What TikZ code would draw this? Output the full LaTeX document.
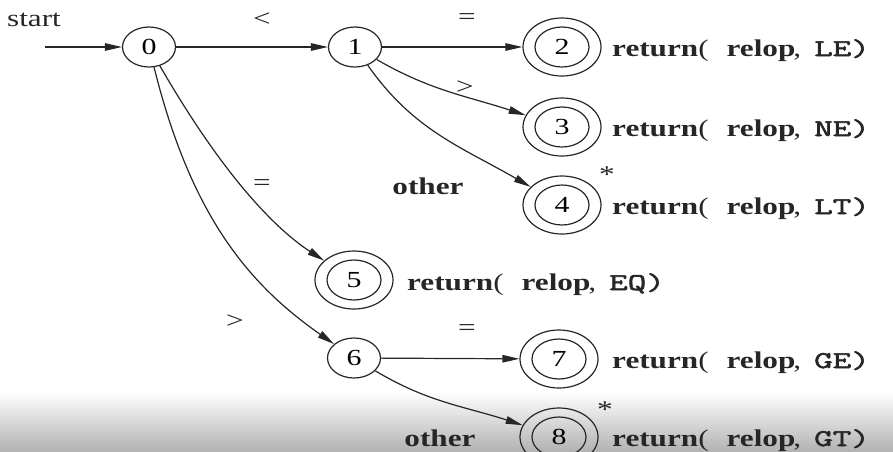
\documentclass[tikz,border=0pt]{standalone}
\usepackage{fontspec}
\setmainfont{Liberation Serif}[FakeStretch=1.3]
\newfontfamily\mymono{Latin Modern Mono}[FakeStretch=1.5,AutoFakeBold=2.5]
\usetikzlibrary{arrows.meta,shapes.geometric}
\tikzset{
  st/.style={ellipse,draw=black!85,line width=1.2pt,minimum width=53pt,minimum height=40pt,inner sep=0pt,
    font=\fontsize{23}{26}\selectfont},
  acc/.style={ellipse,draw=black!85,line width=1.2pt,minimum width=78pt,minimum height=58pt,inner sep=0pt,
    font=\fontsize{23}{26}\selectfont,
    path picture={\draw[black!85,line width=1.2pt] (path picture bounding box.center) ellipse [x radius=27pt, y radius=20pt];}},
  tr/.style={draw=black!85,line width=1.2pt,-{Triangle[length=17pt,width=7.5pt]}},
  lbl/.style={text=black!85},
  ret/.style={anchor=base west,text=black!85,inner sep=0pt},
}
\newcommand{\rtn}[1]{\textbf{return}(\hspace{18pt}\textbf{relop}\hspace{-2pt},\hspace{13pt}{\mymono\bfseries #1)}}
\begin{document}
\begin{tikzpicture}[x=1pt,y=-1pt,every node/.append style={font=\fontsize{24}{28}\selectfont}]
\useasboundingbox (0,0) rectangle (893,451);
\shade[top color=white,bottom color=black!30] (0,392) rectangle (893,451);
% states
\node[st] (n0) at (149,47) {0};
\node[st] (n1) at (355,47) {1};
\node[acc] (n2) at (562,47) {2};
\node[acc] (n3) at (562,127) {3};
\node[acc] (n4) at (562,205) {4};
\node[acc] (n5) at (354,280) {5};
\node[st] (n6) at (354,358) {6};
\node[acc] (n7) at (559,359) {7};
\node[acc] (n8) at (559,437) {8};
% start
\node[lbl] (startl) at (34,20) {start};
\coordinate (s) at (45,47);
\draw[tr] (s) -- (n0);
% transitions
\draw[tr] (n0) -- (n1);
\draw[tr] (n1) -- (n2);
\draw[tr] (n1) to[out=-30,in=162] (n3);
\draw[tr] (n1) to[out=-55,in=150] (n4);
\draw[tr] (n0) to[out=-60,in=147,out looseness=1.4,in looseness=0.5] (n5);
\draw[tr] (n0) to[out=-76,in=145,out looseness=1.2,in looseness=0.8] (n6);
\draw[tr] (n6) -- (n7);
\draw[tr] (n6) to[out=-31,in=162] (n8);
% labels
\node[lbl] (l01) at (262,20) {<};
\node[lbl] (l12) at (467,19) {=};
\node[lbl] (l13) at (465,88) {>};
\node[lbl] (l14) at (428,186) {\textbf{other}};
\node[lbl] (l05) at (262,185) {=};
\node[lbl] (l06) at (235,322) {>};
\node[lbl] (l67) at (467,330) {=};
\node[lbl] (l68) at (440,438) {\textbf{other}};
\node[lbl] (s4) at (607,175) {*};
\node[lbl] (s8) at (605,410) {*};
% actions
\node[ret] (r2) at (612,56) {\rtn{LE}};
\node[ret] (r3) at (612,136) {\rtn{NE}};
\node[ret] (r4) at (612,214) {\rtn{LT}};
\node[ret] (r5) at (407,290) {\rtn{EQ}};
\node[ret] (r7) at (612,368) {\rtn{GE}};
\node[ret] (r8) at (612,446) {\rtn{GT}};
\end{tikzpicture}
\end{document}
